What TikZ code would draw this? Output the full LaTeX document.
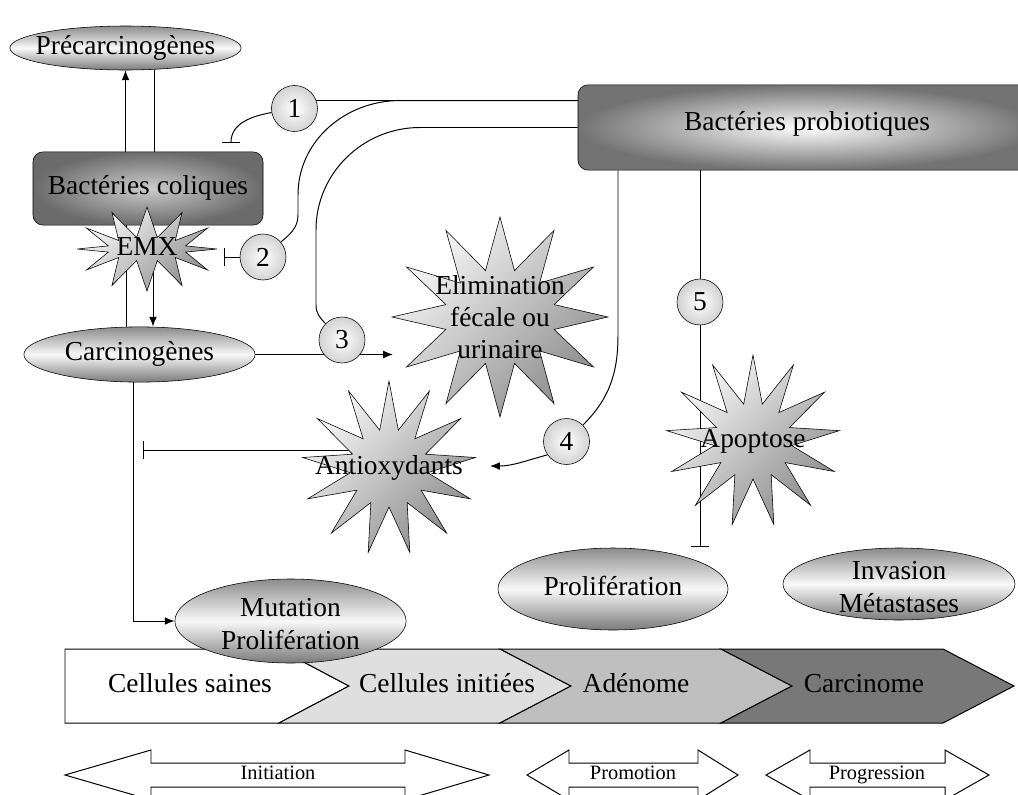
\documentclass[tikz,border=0pt]{standalone}
\usepackage{fontspec}
\setmainfont{Liberation Serif}
\usepackage{tikz}
\usetikzlibrary{shapes.geometric,shapes.symbols,arrows.meta}
\pgfdeclarelayer{background}
\pgfsetlayers{background,main}

\begin{document}
\begin{tikzpicture}[scale=0.25]
\tikzstyle{every node}+=[inner sep=0pt, font=\fontsize{19.5}{23}\selectfont]
\tikzstyle{oneline}=[text height=13.3pt, text depth=4.2pt]
\tikzstyle{twolines}=[align=center, yshift=-0.08cm]
\tikzstyle{oval}=[ellipse, draw, top color=black!45, bottom color=black!52, middle color=gray!5]
\tikzstyle{bactbox}=[rectangle, rounded corners=0.25cm, draw, oneline]
\tikzstyle{burst}=[starburst, starburst points=12, starburst point height=1.2cm, random starburst=0, draw, top color=gray!5, bottom color=black!45, shading angle=45]
\tikzstyle{num}=[circle, draw, minimum size=1.15cm, inner color=white, outer color=gray!35]
\tikzstyle{link}=[line width=0.7pt]
\tikzstyle{inhib}=[line width=0.7pt, -{Bar[width=13pt]}]
\tikzstyle{stim}=[line width=0.7pt, -{Latex[length=7pt,width=5.5pt]}]
\tikzstyle{phase}=[draw, fill=white, line width=0.7pt]
\tikzstyle{phasetext}=[font=\fontsize{14.5}{17}\selectfont, text height=9.9pt, text depth=3.1pt]
\useasboundingbox (0,0) rectangle (101.8,-79.4);
% stages
\filldraw [fill=white, line width=0.7pt] (6.5,-64.9) -- (27.9,-64.9) -- (34.9,-68.6) -- (27.9,-72.3) -- (6.5,-72.3) -- cycle;
\filldraw [fill=gray!25, line width=0.7pt] (27.9,-64.9) -- (50,-64.9) -- (57.1,-68.6) -- (50,-72.3) -- (27.9,-72.3) -- (34.9,-68.6) -- cycle;
\filldraw [fill=gray!50, line width=0.7pt] (50,-64.9) -- (72.1,-64.9) -- (79.2,-68.6) -- (72.1,-72.3) -- (50,-72.3) -- (57.1,-68.6) -- cycle;
\filldraw [fill=black!53, line width=0.7pt] (72.1,-64.9) -- (94.3,-64.9) -- (101.4,-68.6) -- (94.3,-72.3) -- (72.1,-72.3) -- (79.2,-68.6) -- cycle;
\node [oneline] (saines) at (19,-68.6) {Cellules saines};
\node [oneline] (initiees) at (44.7,-68.6) {Cellules initiées};
\node [oneline] (adenome) at (63.6,-68.6) {Adénome};
\node [oneline] (carcinome) at (86.4,-68.6) {Carcinome};
% phases
\draw [phase] (6.5,-77.5) -- (15.1,-75) -- (15.1,-76.3) -- (40.5,-76.3) -- (40.5,-75) -- (48.9,-77.5) -- (40.5,-80) -- (40.5,-78.7) -- (15.1,-78.7) -- (15.1,-80) -- cycle;
\draw [phase] (52.7,-77.5) -- (56.9,-75) -- (56.9,-76.3) -- (69.8,-76.3) -- (69.8,-75) -- (73.8,-77.5) -- (69.8,-80) -- (69.8,-78.7) -- (56.9,-78.7) -- (56.9,-80) -- cycle;
\draw [phase] (76.6,-77.5) -- (81,-75) -- (81,-76.3) -- (94.5,-76.3) -- (94.5,-75) -- (98.9,-77.5) -- (94.5,-80) -- (94.5,-78.7) -- (81,-78.7) -- (81,-80) -- cycle;
\node [phasetext] (initiation) at (27.8,-77.5) {Initiation};
\node [phasetext] (promotion) at (63.3,-77.5) {Promotion};
\node [phasetext] (progression) at (87.7,-77.5) {Progression};
% actors
\node [oval, minimum width=5.78cm, minimum height=1.1cm, label={[oneline]center:Précarcinogènes}] (precarc) at (12.55,-4.8) {};
\node [bactbox, minimum width=5.75cm, minimum height=1.83cm, inner color=gray!40, outer color=black!58] (coliques) at (14.8,-18.85) {Bactéries coliques};
\node [bactbox, minimum width=11.45cm, minimum height=2.13cm, text height=10.8pt, text depth=7pt, inner color=white, outer color=black!55] (probio) at (80.7,-12.75) {Bactéries probiotiques};
\node [oval, minimum width=5.78cm, minimum height=1.38cm, label={[oneline]center:Carcinogènes}] (carc) at (13.95,-35.45) {};
\node [oval, minimum width=5.78cm, minimum height=2.1cm, label={[twolines]center:Mutation\\Prolifération}] (mut) at (29.05,-62.1) {};
\node [oval, minimum width=5.75cm, minimum height=2.05cm, label={[oneline]center:Prolifération}] (prolif) at (61.3,-58.9) {};
\node [oval, minimum width=5.8cm, minimum height=1.8cm, label={[twolines]center:Invasion\\Métastases}] (invas) at (89.9,-58.4) {};
\node [burst, minimum width=3.5cm, minimum height=2.1cm, starburst point height=0.75cm, label={[oneline]center:EMX}] (emx) at (14.7,-24.9) {};
\node [burst, minimum width=5.4cm, minimum height=5cm, starburst point height=1.3cm, label={[align=center]center:Elimination\\fécale ou\\urinaire}] (elim) at (50,-31.7) {};
\node [burst, minimum width=4.35cm, minimum height=4.35cm, starburst points=13, label={[oneline]center:Antioxydants}] (antiox) at (38.9,-46.8) {};
\node [burst, minimum width=4.35cm, minimum height=4.3cm, starburst points=13, label={[oneline]center:Apoptose}] (apop) at (75.3,-44.1) {};
% steps
\node [num] (c1) at (29.45,-10.85) {1};
\node [num] (c2) at (26.3,-25.7) {2};
\node [num] (c3) at (34.2,-34) {3};
\node [num] (c4) at (56.65,-44.15) {4};
\node [num] (c5) at (70,-30.2) {5};
\coordinate (inh1) at (23.1,-14.3);
\coordinate (emxbar) at (22.4,-25.7);
\coordinate (elimin) at (39.3,-35.45);
\coordinate (antioxin) at (49,-46.6);
\coordinate (carcbar) at (14.3,-45);
\coordinate (probar) at (70,-54.7);
\begin{pgfonlayer}{background}
\draw [stim] (coliques.north -| precarc.south) -- (precarc.south);
\draw [link] (coliques.north -| 15.4,0) -- (precarc.south -| 15.4,0);
\draw [link] (coliques.south -| 12.6,0) -- (carc.north -| 12.6,0);
\draw [stim] (coliques.south -| 15.3,0) -- (carc.north -| 15.3,0);
\draw [stim] (carc.south -| 13.3,0) |- (mut.west);
\draw [stim] (carc.east) -- (elimin);
\draw [inhib] (antiox.center |- carcbar) -- (carcbar);
% probiotic actions
\draw [link] (probio.west |- c1.20) -- (c1.20);
\draw [inhib] (c1.190) to[out=190,in=90] (inh1);
\draw [link] (probio.west |- c1.20) -- (c1.20 -| 40,0) to[out=180,in=90] (29.8,-19.5) -- (29.8,-21.5) to[out=-90,in=40] (c2.40);
\draw [inhib] (c2.west) -- (emxbar);
\draw [link] (probio.west) -- (42,-12.75) to[out=180,in=90] (31.6,-23) -- (31.6,-30.5) to[out=-90,in=135] (c3.135);
\draw [link] (probio.south -| 61.8,0) -- (61.8,-33.5) to[out=-90,in=45] (c4.45);
\draw [stim] (c4.215) to[out=195,in=0] (antioxin);
\draw [link] (probio.south -| c5.north) -- (c5.north);
\draw [inhib] (c5.south) -- (probar);
\end{pgfonlayer}
\end{tikzpicture}
\end{document}
